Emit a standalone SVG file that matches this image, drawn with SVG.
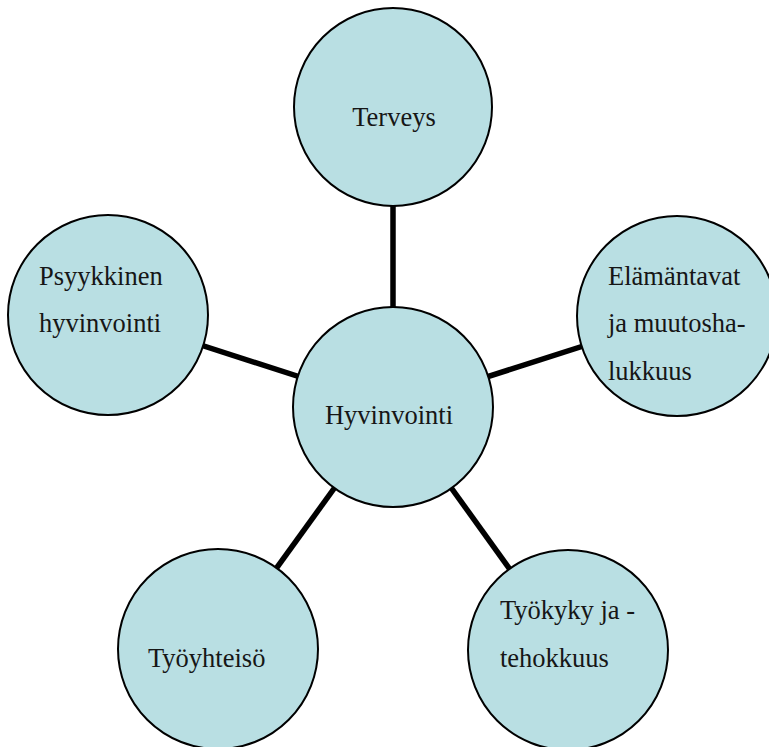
<svg xmlns="http://www.w3.org/2000/svg" width="769" height="747" viewBox="0 0 769 747">
  <style>
    .node { fill: #b9dfe3; stroke: #000; stroke-width: 2; }
    .label { font-family: "Liberation Serif", "Times New Roman", serif; font-size: 26.5px; fill: #161616; }
    .link { stroke: #000; stroke-width: 5.5; stroke-linecap: butt; fill: none; }
  </style>
  <rect width="769" height="747" fill="#fff"/>

  <!-- spokes from the hub to each surrounding circle -->
  <g id="connectors">
    <line class="link" x1="393" y1="407" x2="393" y2="107"/>
    <line class="link" x1="393" y1="407" x2="108" y2="315"/>
    <line class="link" x1="393" y1="407" x2="677" y2="316"/>
    <line class="link" x1="393" y1="407" x2="218" y2="649"/>
    <line class="link" x1="393" y1="407" x2="568" y2="650"/>
  </g>

  <g id="terveys">
    <circle class="node" cx="393" cy="107" r="99"/>
    <text class="label" x="394" y="126" text-anchor="middle">Terveys</text>
  </g>

  <g id="hyvinvointi">
    <circle class="node" cx="393" cy="407" r="100"/>
    <text class="label" x="389" y="424" text-anchor="middle">Hyvinvointi</text>
  </g>

  <g id="psyykkinen">
    <circle class="node" cx="108" cy="315" r="100"/>
    <text class="label" x="39" y="285">Psyykkinen</text>
    <text class="label" x="39" y="332">hyvinvointi</text>
  </g>

  <g id="elamantavat">
    <circle class="node" cx="677" cy="316" r="100"/>
    <text class="label" x="608" y="285">Elämäntavat</text>
    <text class="label" x="608" y="332">ja muutosha-</text>
    <text class="label" x="608" y="380">lukkuus</text>
  </g>

  <g id="tyoyhteiso">
    <circle class="node" cx="218" cy="649" r="100"/>
    <text class="label" x="148" y="667">Työyhteisö</text>
  </g>

  <g id="tyokyky">
    <circle class="node" cx="568" cy="650" r="100"/>
    <text class="label" x="500" y="619">Työkyky ja -</text>
    <text class="label" x="500" y="667">tehokkuus</text>
  </g>
</svg>
